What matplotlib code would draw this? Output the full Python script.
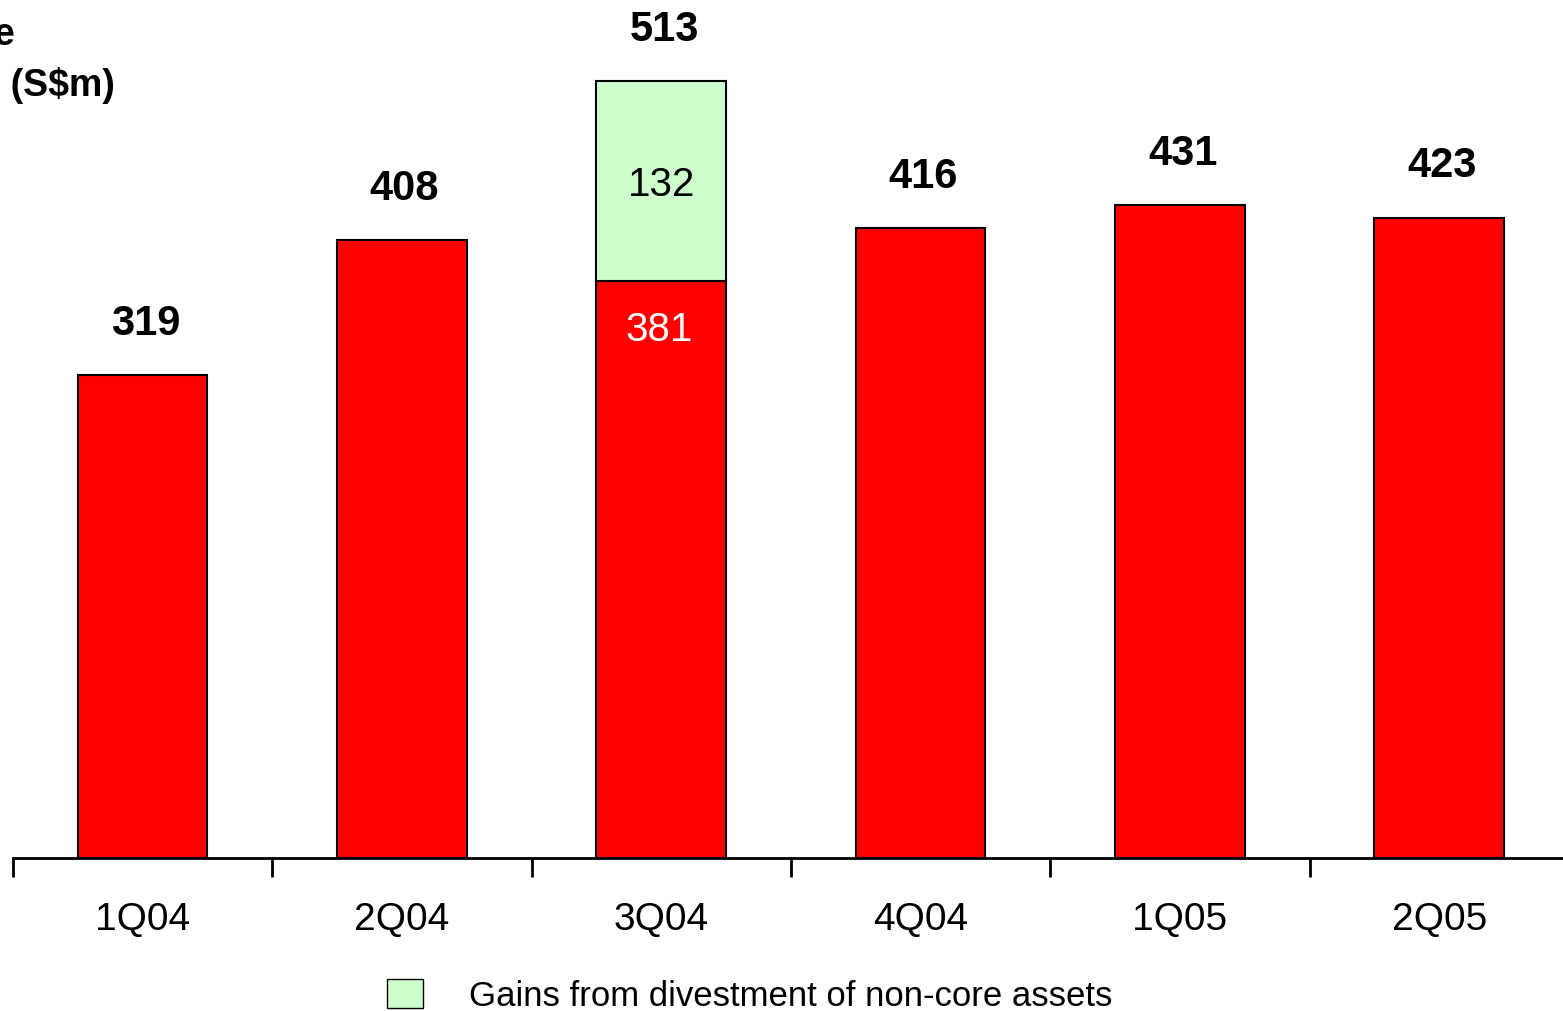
import matplotlib
matplotlib.use("Agg")
import matplotlib.pyplot as plt
import matplotlib.patches as mpatches
import numpy as np

plt.rcParams['font.family'] = ['Liberation Sans', 'DejaVu Sans']

# ── 데이터 ──────────────────────────────────────────
quarters = ["1Q04", "2Q04", "3Q04", "4Q04", "1Q05", "2Q05"]
core     = [319, 408, 381, 416, 431, 423]
gains    = [0, 0, 132, 0, 0, 0]
totals   = [319, 408, 513, 416, 431, 423]

RED   = "#FF0000"
GREEN = "#CCFFCC"

W, H = 1563, 1011
fig = plt.figure(figsize=(W / 100, H / 100), dpi=100)
# 축 위치 (픽셀 기준)
base_y = 858
ax = fig.add_axes([13 / W, (H - base_y) / H, 1556 / W, base_y / H])

px_per_unit = 1.514
ax.set_ylim(0, base_y / px_per_unit)
ax.set_xlim(-0.5, len(quarters) - 0.5)

x = np.arange(len(quarters))
ax.bar(x, core, width=0.5, color=RED, edgecolor="black", linewidth=1.5, zorder=2)
ax.bar(x, gains, width=0.5, bottom=core, color=GREEN, edgecolor="black",
       linewidth=1.5, zorder=2)
# 빈 막대(0) 숨김
for p in ax.patches[len(quarters):]:
    if p.get_height() == 0:
        p.set_visible(False)

# 합계 라벨
for xi, t in zip(x, totals):
    ax.text(xi + 0.01, t + 34, str(t), ha="center", va="center",
            fontsize=30, fontweight="bold", color="black")

# 3Q04 내부 라벨
for xi, c, g in zip(x, core, gains):
    if g > 0:
        ax.text(xi, c + g - 68.5, str(g), ha="center", va="center",
                fontsize=29, color="black")
        ax.text(xi - 0.01, c - 32, str(c), ha="center", va="center",
                fontsize=29, color="white")

# 축 스타일
for s in ["top", "right", "left"]:
    ax.spines[s].set_visible(False)
ax.spines["bottom"].set_linewidth(2)
ax.set_yticks([])
ax.set_xticks(x)
ax.set_xticklabels(quarters, fontsize=28)
ax.tick_params(axis="x", which="major", length=0, pad=32)
ax.set_xticks(np.arange(-0.5, len(quarters) + 0.5, 1), minor=True)
ax.tick_params(axis="x", which="minor", length=14, width=2, direction="out")

# 좌상단 제목 (원본에서도 잘려 있음)
fig.text(15 / W, 1 - 35 / H, "Net profit before", ha="right", va="center",
         fontsize=27, fontweight="bold")
fig.text(115 / W, 1 - 85 / H, "tax (S$m)", ha="right", va="center",
         fontsize=27, fontweight="bold")

# 범례
handle = mpatches.Patch(facecolor=GREEN, edgecolor="black", linewidth=1)
fig.legend(handles=[handle], labels=["Gains from divestment of non-core assets"],
           loc="center left", bbox_to_anchor=(387 / W, 1 - 996 / H),
           frameon=False, fontsize=25, handlelength=1.05, handleheight=0.9,
           handletextpad=1.3, borderpad=0, borderaxespad=0)

fig.savefig("out.png", dpi=100)
